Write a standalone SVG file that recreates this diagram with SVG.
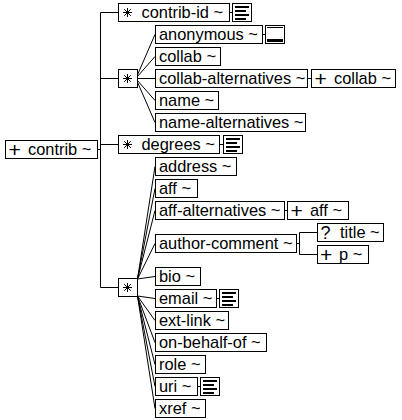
<svg xmlns="http://www.w3.org/2000/svg" width="402" height="420" viewBox="0 0 402 420">
<style>
.bx{fill:#fff;stroke:#000;stroke-width:1}
.t{font-family:"Liberation Sans",Arial,sans-serif;font-size:16.4px;fill:#000}
.pl{font-family:"Liberation Sans",Arial,sans-serif;font-size:21px;fill:#000}
.q{font-family:"Liberation Sans",Arial,sans-serif;font-size:18px;fill:#000}
.ln{stroke:#000;stroke-width:1;fill:none}
</style>
<defs>
<path id="star" class="ln" d="M-4.5 0H4.5M0 -4.5V4.5M-3.3 -3.3L3.3 3.3M-3.3 3.3L3.3 -3.3"/>
<g id="txtIcon">
<rect class="bx" x="0.5" y="0.5" width="19" height="18"/>
<rect x="3" y="3" width="14" height="2" fill="#000"/>
<rect x="3" y="7" width="11" height="2" fill="#000"/>
<rect x="3" y="11" width="14" height="2" fill="#000"/>
<rect x="3" y="15" width="11" height="2" fill="#000"/>
</g>
<g id="emptyIcon">
<rect class="bx" x="0.5" y="0.5" width="19" height="18"/>
<rect x="2" y="2" width="16" height="1" fill="#000"/>
<rect x="2" y="14" width="16" height="3" fill="#000"/>
</g>
</defs>
<g id="connectors">
<path class="ln" d="M97 149.5H100.5M100.5 12.5V287.5M100.5 12.5H118M100.5 78.5H118M100.5 144.5H118M100.5 287.5H118"/>
<path class="ln" d="M137 76L155 34.5M137 77L155 56.5M137 78.5H155M137 80L155 100.5M137 81L155 122.5"/>
<path class="ln" d="M137.5 279L155 166.5M137.5 279L155 188.5M137.5 279L155 210.5M137.5 279L155 243.5M137.5 279L155 276.5M137.5 296L155 298.5M137.5 296L155 320.5M137.5 296L155 342.5M137.5 296L155 364.5M137.5 296L155 386.5M137.5 296L155 408.5M137.5 279V296"/>
<path class="ln" d="M229 12.5H232M262 34.5H265M307 78.5H311M219 144.5H223M284 210.5H287M296 243.5H299.5M299.5 232.5V254.5M299.5 232.5H317M299.5 254.5H317M216 298.5H219M197 386.5H200"/>
</g>
<g id="contrib"><rect class="bx" x="5.5" y="140.5" width="92" height="18"/><text class="pl" x="8.5" y="157">+</text><text class="t" x="28" y="155">contrib ~</text></g>
<g id="contrib-id"><rect class="bx" x="118.5" y="3.5" width="111" height="18"/><use href="#star" x="127.5" y="12.5"/><text class="t" x="141.5" y="18">contrib-id ~</text><use href="#txtIcon" x="232" y="3"/></g>
<g id="choice1"><rect class="bx" x="118.5" y="69.5" width="19" height="18"/><use href="#star" x="127.5" y="78.5"/></g>
<g id="anonymous"><rect class="bx" x="155.5" y="25.5" width="107" height="18"/><text class="t" x="159" y="40">anonymous ~</text><use href="#emptyIcon" x="265" y="25"/></g>
<g id="collab"><rect class="bx" x="155.5" y="47.5" width="65" height="18"/><text class="t" x="159" y="62">collab ~</text></g>
<g id="collab-alternatives"><rect class="bx" x="155.5" y="69.5" width="152" height="18"/><text class="t" x="159" y="84">collab-alternatives ~</text></g>
<g id="collab-alt-collab"><rect class="bx" x="311.5" y="69.5" width="84" height="18"/><text class="pl" x="314.5" y="86">+</text><text class="t" x="334" y="84">collab ~</text></g>
<g id="name"><rect class="bx" x="155.5" y="91.5" width="63" height="18"/><text class="t" x="159" y="106">name ~</text></g>
<g id="name-alternatives"><rect class="bx" x="155.5" y="113.5" width="150" height="18"/><text class="t" x="159" y="128">name-alternatives ~</text></g>
<g id="degrees"><rect class="bx" x="118.5" y="135.5" width="101" height="18"/><use href="#star" x="127.5" y="144.5"/><text class="t" x="141.5" y="150">degrees ~</text><use href="#txtIcon" x="223" y="135"/></g>
<g id="choice2"><rect class="bx" x="118.5" y="278.5" width="19" height="18"/><use href="#star" x="127.5" y="287.5"/></g>
<g id="address"><rect class="bx" x="155.5" y="157.5" width="81" height="18"/><text class="t" x="159" y="172">address ~</text></g>
<g id="aff"><rect class="bx" x="155.5" y="179.5" width="42" height="18"/><text class="t" x="159" y="194">aff ~</text></g>
<g id="aff-alternatives"><rect class="bx" x="155.5" y="201.5" width="129" height="18"/><text class="t" x="159" y="216">aff-alternatives ~</text></g>
<g id="aff-alt-aff"><rect class="bx" x="287.5" y="201.5" width="61" height="18"/><text class="pl" x="290.5" y="218">+</text><text class="t" x="310" y="216">aff ~</text></g>
<g id="author-comment"><rect class="bx" x="155.5" y="234.5" width="141" height="18"/><text class="t" x="159" y="249">author-comment ~</text></g>
<g id="title"><rect class="bx" x="317.5" y="223.5" width="66" height="18"/><text class="q" x="320.5" y="239">?</text><text class="t" x="340" y="238">title ~</text></g>
<g id="p"><rect class="bx" x="317.5" y="245.5" width="51" height="18"/><text class="pl" x="320" y="262">+</text><text class="t" x="339" y="260">p ~</text></g>
<g id="bio"><rect class="bx" x="155.5" y="267.5" width="45" height="18"/><text class="t" x="159" y="282">bio ~</text></g>
<g id="email"><rect class="bx" x="155.5" y="289.5" width="61" height="18"/><text class="t" x="159" y="304">email ~</text><use href="#txtIcon" x="219" y="289"/></g>
<g id="ext-link"><rect class="bx" x="155.5" y="311.5" width="73" height="18"/><text class="t" x="159" y="326">ext-link ~</text></g>
<g id="on-behalf-of"><rect class="bx" x="155.5" y="333.5" width="111" height="18"/><text class="t" x="159" y="348">on-behalf-of ~</text></g>
<g id="role"><rect class="bx" x="155.5" y="355.5" width="50" height="18"/><text class="t" x="159" y="370">role ~</text></g>
<g id="uri"><rect class="bx" x="155.5" y="377.5" width="42" height="18"/><text class="t" x="159" y="392">uri ~</text><use href="#txtIcon" x="200" y="377"/></g>
<g id="xref"><rect class="bx" x="155.5" y="399.5" width="50" height="18"/><text class="t" x="159" y="414">xref ~</text></g>
</svg>
